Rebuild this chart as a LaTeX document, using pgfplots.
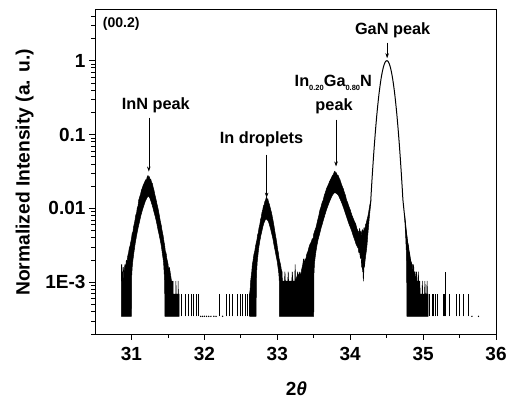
\documentclass[border=0pt]{standalone}
\usepackage{fontspec}
\setmainfont{Liberation Sans}
\usepackage{pgfplots}
\pgfplotsset{compat=1.18}
\usetikzlibrary{arrows.meta}
\newcommand\sub[1]{\raisebox{-0.45ex}{\fontsize{7.5}{8}\selectfont\bfseries #1}}
\begin{document}
\begin{tikzpicture}
\begin{axis}[
  name=ax,
  width=401pt, height=325pt, scale only axis,
  xmin=30.5, xmax=36, ymin=2e-4, ymax=5,
  ymode=log,
  xtick={31,32,33,34,35,36}, minor x tick num=1,
  ytick={0.001,0.01,0.1,1}, yticklabels={1E-3,0.01,0.1,1},
  minor ytick={2e-4,3e-4,4e-4,5e-4,6e-4,7e-4,8e-4,9e-4,2e-3,3e-3,4e-3,5e-3,6e-3,7e-3,8e-3,9e-3,0.02,0.03,0.04,0.05,0.06,0.07,0.08,0.09,0.2,0.3,0.4,0.5,0.6,0.7,0.8,0.9,2,3,4},
  tick align=outside, xtick pos=bottom, ytick pos=left,
  major tick length=6pt, minor tick length=3.5pt,
  every tick/.style={black, line width=0.8pt},
  axis line style={line width=0.8pt},
  tick label style={font=\bfseries\fontsize{19}{22}\selectfont},
  xticklabel style={yshift=-4pt},
  /pgf/number format/assume math mode=true,
  xlabel={2\textit{θ}},
  xlabel style={font=\bfseries\fontsize{19}{22}\selectfont, at={(axis description cs:0.5025,-0.19)}, anchor=base},
  ylabel={Normalized Intensity (a. u.)},
  ylabel style={font=\bfseries\fontsize{19.25}{22}\selectfont, at={(axis description cs:-0.163,0.497)}, anchor=base},
  unbounded coords=jump,
]
% InN peak band
\addplot[fill=black, draw=black, line width=0.5pt, line join=round] coordinates {
(30.863,3.47e-4) (30.863,1.74e-3) (30.870,1.74e-3) (30.872,1.04e-3) (30.880,1.39e-3) (30.886,1.04e-3)
(30.892,1.6e-3) (30.900,1.39e-3) (30.910,1.74e-3) (30.920,1.6e-3) (30.930,2.0e-3) (30.940,1.9e-3)
(30.950,2.3e-3) (30.960,2.5e-3) (30.970,2.9e-3) (30.980,3.1e-3) (30.990,3.5e-3) (31.000,3.9e-3)
(31.010,4.6e-3) (31.020,4.8e-3) (31.030,5.7e-3) (31.045,6.6e-3) (31.060,8.2e-3) (31.070,8.6e-3)
(31.080,1.02e-2) (31.090,1.08e-2) (31.100,1.3e-2) (31.114,1.45e-2) (31.125,1.55e-2) (31.135,1.75e-2)
(31.150,1.9e-2) (31.160,2.05e-2) (31.170,2.15e-2) (31.183,2.3e-2) (31.195,2.45e-2) (31.205,2.4e-2)
(31.215,2.65e-2) (31.228,2.8e-2) (31.235,2.6e-2) (31.245,2.7e-2) (31.255,2.45e-2) (31.265,2.5e-2)
(31.275,2.25e-2) (31.285,2.2e-2) (31.297,1.95e-2) (31.310,1.75e-2) (31.320,1.55e-2) (31.335,1.35e-2)
(31.350,1.15e-2) (31.366,9.8e-3) (31.380,8.3e-3) (31.395,6.8e-3) (31.410,5.8e-3) (31.420,5.0e-3)
(31.434,4.3e-3) (31.445,3.6e-3) (31.455,3.2e-3) (31.465,2.6e-3) (31.475,2.5e-3) (31.485,2.1e-3)
(31.495,1.9e-3) (31.503,1.74e-3) (31.510,1.39e-3) (31.520,1.6e-3) (31.530,1.39e-3) (31.540,1.2e-3)
(31.549,1.04e-3) (31.560,1.04e-3) (31.565,6.94e-4) (31.570,1.04e-3) (31.573,6.94e-4) (31.610,6.94e-4)
(31.610,1.04e-3) (31.613,6.94e-4) (31.640,6.94e-4) (31.640,1.04e-3) (31.643,6.94e-4) (31.655,6.94e-4)
(31.655,3.47e-4)
(31.460,3.47e-4) (31.455,1.0e-3) (31.448,1.4e-3) (31.440,1.9e-3) (31.425,2.4e-3) (31.410,3.1e-3)
(31.395,3.7e-3) (31.380,4.4e-3) (31.365,5.1e-3) (31.350,6.1e-3) (31.330,7.5e-3) (31.310,8.9e-3)
(31.290,1.06e-2) (31.270,1.23e-2) (31.250,1.4e-2) (31.230,1.48e-2) (31.210,1.38e-2) (31.190,1.25e-2)
(31.170,1.1e-2) (31.150,9.5e-3) (31.130,8.1e-3) (31.110,6.6e-3) (31.090,5.4e-3) (31.070,4.3e-3)
(31.050,3.3e-3) (31.035,2.6e-3) (31.020,2.0e-3) (31.010,1.6e-3) (31.003,1.2e-3) (31.000,3.47e-4)
(30.863,3.47e-4)
};
% In droplets + InGaN band
\addplot[fill=black, draw=black, line width=0.5pt, line join=round] coordinates {
(32.620,3.47e-4) (32.620,6.94e-4) (32.628,8.0e-4) (32.635,1.04e-3) (32.642,1.2e-3) (32.650,1.39e-3)
(32.658,1.74e-3) (32.665,1.9e-3) (32.672,2.1e-3) (32.680,2.4e-3) (32.690,2.6e-3) (32.700,3.0e-3)
(32.710,3.4e-3) (32.720,3.7e-3) (32.730,4.4e-3) (32.740,4.7e-3) (32.750,5.5e-3) (32.760,6.0e-3)
(32.770,7.0e-3) (32.780,7.6e-3) (32.790,8.8e-3) (32.800,9.5e-3) (32.810,1.08e-2) (32.820,1.12e-2)
(32.830,1.25e-2) (32.840,1.3e-2) (32.848,1.4e-2) (32.855,1.42e-2) (32.862,1.32e-2) (32.870,1.35e-2)
(32.880,1.22e-2) (32.890,1.15e-2) (32.900,1.05e-2) (32.910,9.6e-3) (32.923,8.6e-3) (32.935,7.4e-3)
(32.945,6.6e-3) (32.955,5.8e-3) (32.965,5.0e-3) (32.978,4.2e-3) (32.992,3.5e-3) (33.005,2.8e-3)
(33.015,2.5e-3) (33.025,2.1e-3) (33.035,1.9e-3) (33.045,1.74e-3) (33.055,1.5e-3) (33.065,1.39e-3)
(33.070,1.04e-3) (33.100,1.04e-3) (33.105,1.39e-3) (33.110,1.04e-3) (33.145,1.04e-3) (33.150,1.39e-3)
(33.155,1.04e-3) (33.200,1.04e-3) (33.205,1.39e-3) (33.215,1.04e-3) (33.240,1.04e-3) (33.245,1.74e-3)
(33.250,1.04e-3) (33.270,1.2e-3) (33.280,1.39e-3) (33.290,1.2e-3) (33.310,1.39e-3) (33.320,1.2e-3)
(33.335,1.5e-3) (33.350,1.74e-3) (33.360,2.08e-3) (33.370,1.74e-3) (33.380,2.08e-3) (33.390,2.0e-3)
(33.400,2.3e-3) (33.410,2.5e-3) (33.420,2.6e-3) (33.435,3.0e-3) (33.450,3.3e-3) (33.465,3.5e-3)
(33.480,3.9e-3) (33.490,3.8e-3) (33.500,4.5e-3) (33.515,5.0e-3) (33.530,5.5e-3) (33.540,6.0e-3)
(33.555,7.0e-3) (33.570,8.0e-3) (33.585,9.5e-3) (33.600,1.05e-2) (33.615,1.2e-2) (33.630,1.3e-2)
(33.645,1.5e-2) (33.660,1.65e-2) (33.675,1.85e-2) (33.690,2.0e-2) (33.705,2.15e-2) (33.720,2.35e-2)
(33.735,2.5e-2) (33.750,2.7e-2) (33.760,2.8e-2) (33.770,2.9e-2) (33.780,3.1e-2) (33.790,3.2e-2)
(33.800,3.0e-2) (33.810,3.05e-2) (33.820,2.85e-2) (33.835,2.8e-2) (33.850,2.55e-2) (33.860,2.45e-2)
(33.875,2.2e-2) (33.890,2.0e-2) (33.905,1.85e-2) (33.920,1.65e-2) (33.935,1.5e-2) (33.950,1.3e-2)
(33.965,1.2e-2) (33.980,1.08e-2) (34.000,9.6e-3) (34.015,8.6e-3) (34.030,7.8e-3) (34.045,7.2e-3)
(34.060,6.6e-3) (34.075,6.2e-3) (34.090,5.4e-3) (34.105,5.0e-3) (34.120,4.6e-3) (34.130,5.4e-3)
(34.140,4.4e-3) (34.150,5.0e-3) (34.160,4.2e-3) (34.170,5.2e-3) (34.180,4.4e-3) (34.190,5.5e-3)
(34.200,5.0e-3) (34.210,6.0e-3) (34.220,6.3e-3) (34.230,7.0e-3) (34.240,7.6e-3) (34.250,8.5e-3)
(34.265,1.05e-2) (34.283,1.32e-2)
(34.288,1.32e-2) (34.275,1.0e-2) (34.262,7.5e-3) (34.250,5.5e-3) (34.240,4.2e-3) (34.232,3.3e-3)
(34.225,2.8e-3) (34.215,2.4e-3) (34.205,2.0e-3) (34.195,1.6e-3) (34.190,2.1e-3) (34.185,1.2e-3)
(34.180,1.04e-3) (34.175,1.9e-3) (34.170,1.39e-3) (34.165,2.0e-3) (34.158,1.6e-3) (34.150,2.3e-3)
(34.140,2.1e-3) (34.130,2.6e-3) (34.120,2.5e-3) (34.110,2.9e-3) (34.100,3.0e-3) (34.080,3.3e-3)
(34.060,3.8e-3) (34.040,4.3e-3) (34.020,5.0e-3) (34.000,5.6e-3) (33.980,6.3e-3) (33.960,7.2e-3)
(33.940,8.3e-3) (33.920,9.5e-3) (33.900,1.08e-2) (33.880,1.22e-2) (33.860,1.35e-2) (33.840,1.5e-2)
(33.820,1.58e-2) (33.800,1.62e-2) (33.780,1.62e-2) (33.760,1.53e-2) (33.740,1.4e-2) (33.720,1.26e-2)
(33.700,1.12e-2) (33.680,9.9e-3) (33.660,8.6e-3) (33.640,7.4e-3) (33.620,6.3e-3) (33.600,5.4e-3)
(33.580,4.5e-3) (33.560,3.8e-3) (33.545,3.2e-3) (33.530,2.6e-3) (33.520,2.2e-3) (33.510,1.8e-3)
(33.503,1.3e-3) (33.500,3.47e-4)
(33.030,3.47e-4) (33.027,1.1e-3) (33.020,1.35e-3) (33.010,1.6e-3) (33.000,1.9e-3) (32.985,2.25e-3)
(32.970,2.7e-3) (32.955,3.2e-3) (32.940,3.9e-3) (32.925,4.5e-3) (32.910,5.2e-3) (32.895,5.9e-3)
(32.880,6.6e-3) (32.865,7.0e-3) (32.850,7.2e-3) (32.835,7.0e-3) (32.820,6.5e-3) (32.805,5.8e-3)
(32.790,5.0e-3) (32.775,4.3e-3) (32.760,3.6e-3) (32.745,2.9e-3) (32.735,2.35e-3) (32.725,1.9e-3)
(32.718,1.45e-3) (32.713,1.0e-3) (32.710,3.47e-4)
(32.620,3.47e-4)
};
% GaN right shoulder block
\addplot[fill=black, draw=black, line width=0.5pt, line join=round] coordinates {
(34.748,8.0e-3) (34.760,6.0e-3) (34.770,4.8e-3) (34.778,4.3e-3) (34.786,3.5e-3) (34.795,3.3e-3)
(34.805,2.6e-3) (34.815,2.5e-3) (34.825,2.0e-3) (34.835,1.9e-3) (34.845,1.74e-3) (34.855,1.74e-3)
(34.860,1.39e-3) (34.870,1.74e-3) (34.875,1.39e-3) (34.890,1.39e-3) (34.895,1.04e-3) (34.910,1.39e-3)
(34.915,1.04e-3) (34.930,1.04e-3) (34.935,1.39e-3) (34.940,1.04e-3) (34.955,1.04e-3) (34.960,6.94e-4)
(34.985,6.94e-4) (34.990,1.04e-3) (34.995,6.94e-4) (35.020,6.94e-4) (35.025,1.04e-3) (35.030,6.94e-4)
(35.050,6.94e-4) (35.055,1.04e-3) (35.060,6.94e-4) (35.070,6.94e-4) (35.070,3.47e-4)
(34.778,3.47e-4) (34.775,1.5e-3) (34.770,2.6e-3) (34.762,4.0e-3) (34.755,5.5e-3) (34.748,8.0e-3)
};
% GaN peak line
\addplot[black, line width=1pt, line join=round] coordinates {
(34.283,1.32e-2) (34.293,1.95e-2) (34.303,2.81e-2) (34.313,3.97e-2) (34.323,5.53e-2) (34.333,7.56e-2)
(34.343,0.1016) (34.353,0.134) (34.363,0.174) (34.373,0.221) (34.383,0.276) (34.393,0.34)
(34.403,0.409) (34.413,0.485) (34.423,0.565) (34.433,0.645) (34.443,0.725) (34.453,0.80)
(34.463,0.867) (34.473,0.923) (34.483,0.965) (34.493,0.991) (34.503,1.0) (34.513,0.991)
(34.523,0.965) (34.533,0.923) (34.543,0.867) (34.553,0.80) (34.563,0.725) (34.573,0.645)
(34.583,0.565) (34.593,0.485) (34.603,0.409) (34.613,0.34) (34.623,0.276) (34.633,0.221)
(34.643,0.174) (34.653,0.134) (34.663,0.1016) (34.673,7.56e-2) (34.683,5.53e-2) (34.693,3.97e-2)
(34.703,2.81e-2) (34.713,1.95e-2) (34.723,1.32e-2) (34.740,9.0e-3) (34.755,6.5e-3) (34.770,4.6e-3)
(34.785,3.5e-3) (34.800,2.9e-3) (34.815,2.3e-3) (34.830,1.9e-3) (34.845,1.74e-3)
};
% isolated count spikes in the tails
\addplot[black, line width=0.5pt] coordinates {
(31.687,3.47e-4) (31.687,6.94e-4) (31.687,nan)
(31.732,3.47e-4) (31.732,6.94e-4) (31.732,nan)
(31.778,3.47e-4) (31.778,6.94e-4) (31.778,nan)
(31.820,3.47e-4) (31.820,6.94e-4) (31.820,nan)
(31.846,3.47e-4) (31.846,6.94e-4) (31.846,nan)
(31.893,3.47e-4) (31.893,6.94e-4) (31.893,nan)
(31.910,3.47e-4) (31.910,6.94e-4) (31.910,nan)
(32.203,3.47e-4) (32.203,6.94e-4) (32.203,nan)
(32.305,3.47e-4) (32.305,6.94e-4) (32.305,nan)
(32.340,3.47e-4) (32.340,6.94e-4) (32.340,nan)
(32.380,3.47e-4) (32.380,6.94e-4) (32.380,nan)
(32.450,3.47e-4) (32.450,6.94e-4) (32.450,nan)
(32.488,3.47e-4) (32.488,6.94e-4) (32.488,nan)
(32.525,3.47e-4) (32.525,6.94e-4) (32.525,nan)
(32.556,3.47e-4) (32.556,6.94e-4) (32.556,nan)
(32.588,3.47e-4) (32.588,6.94e-4) (32.588,nan)
(32.610,3.47e-4) (32.610,6.94e-4) (32.610,nan)
(35.085,3.47e-4) (35.085,6.94e-4) (35.085,nan)
(35.120,3.47e-4) (35.120,6.94e-4) (35.120,nan)
(35.140,3.47e-4) (35.140,6.94e-4) (35.140,nan)
(35.165,3.47e-4) (35.165,6.94e-4) (35.165,nan)
(35.190,3.47e-4) (35.190,6.94e-4) (35.190,nan)
(35.270,3.47e-4) (35.270,6.94e-4) (35.270,nan)
(35.290,3.47e-4) (35.290,6.94e-4) (35.290,nan)
(35.310,3.47e-4) (35.310,1.39e-3) (35.310,nan)
(35.360,3.47e-4) (35.360,6.94e-4) (35.360,nan)
(35.460,3.47e-4) (35.460,6.94e-4) (35.460,nan)
(35.490,3.47e-4) (35.490,6.94e-4) (35.490,nan)
(35.555,3.47e-4) (35.555,6.94e-4) (35.555,nan)
(35.620,3.47e-4) (35.620,6.94e-4)
};
% isolated single counts
\addplot[only marks, mark=*, mark size=0.45pt, black] coordinates {
(31.950,3.47e-4) (31.975,3.47e-4) (32.000,3.47e-4) (32.030,3.47e-4) (32.060,3.47e-4) (32.090,3.47e-4)
(32.130,3.47e-4) (32.160,3.47e-4) (32.250,3.47e-4) (35.670,3.47e-4) (35.760,3.47e-4)
};
% annotations
\node[font=\bfseries\fontsize{14}{16}\selectfont, anchor=west] at (axis cs:30.56,3.16) {(00.2)};
\node[font=\bfseries\fontsize{16.3}{18}\selectfont] at (axis cs:31.334,0.2466) {InN peak};
\draw[-{Stealth[length=5pt,width=3.5pt]}, line width=0.6pt] (axis cs:31.238,0.170) -- (axis cs:31.238,0.0316);
\node[font=\bfseries\fontsize{16.3}{18}\selectfont] at (axis cs:32.783,0.0856) {In droplets};
\draw[-{Stealth[length=5pt,width=3.5pt]}, line width=0.6pt] (axis cs:32.854,0.0537) -- (axis cs:32.854,0.0140);
\node[font=\bfseries\fontsize{16.3}{18}\selectfont] at (axis cs:33.769,0.504) {In\sub{0.20}Ga\sub{0.80}N};
\node[font=\bfseries\fontsize{16.3}{18}\selectfont] at (axis cs:33.779,0.243) {peak};
\draw[-{Stealth[length=5pt,width=3.5pt]}, line width=0.6pt] (axis cs:33.806,0.1595) -- (axis cs:33.806,0.037);
\node[font=\bfseries\fontsize{16.3}{18}\selectfont] at (axis cs:34.582,2.54) {GaN peak};
\draw[-{Stealth[length=5pt,width=3.5pt]}, line width=0.6pt] (axis cs:34.507,1.75) -- (axis cs:34.507,1.08);
\end{axis}
\path (ax.south west) ++(-95pt,-62pt) rectangle ++(510pt,396pt);
\end{tikzpicture}
\end{document}
